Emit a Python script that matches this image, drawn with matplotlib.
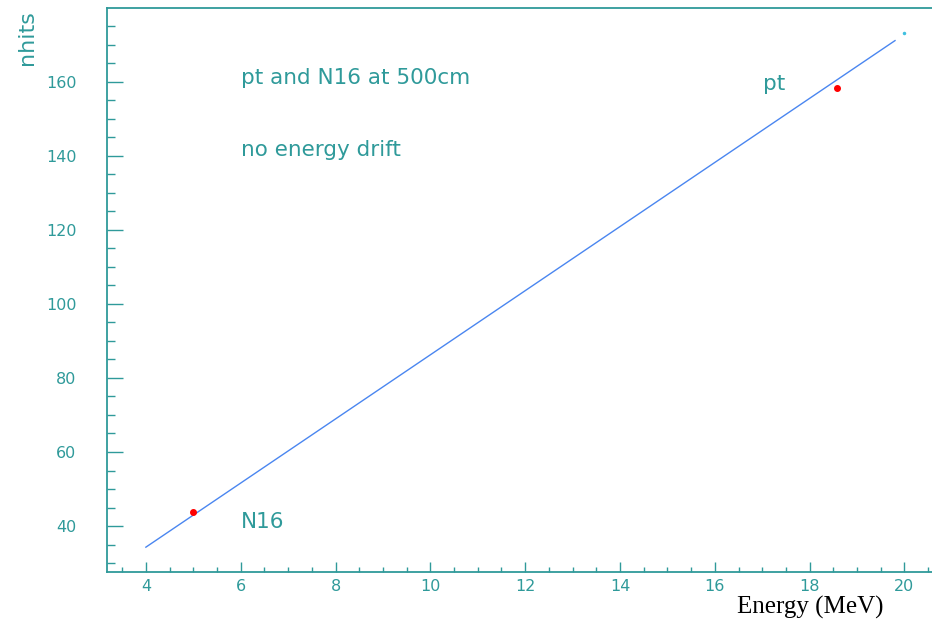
import matplotlib.pyplot as plt
from matplotlib.ticker import MultipleLocator

# fitted line (nhits vs energy)
line_energy = [4.0, 19.8]
line_nhits = [34.3, 171.1]

# measured points
point_energy = [5.0, 18.58]
point_nhits = [43.8, 158.4]
point_labels = ['N16', 'pt']

# stray point at top right
extra_energy = [20.0]
extra_nhits = [173.2]

teal = '#2f9a9a'

fig = plt.figure(figsize=(9.32, 6.26), dpi=100)
ax = fig.add_axes([0.1148, 0.0863, 0.8852, 0.9009])

ax.plot(line_energy, line_nhits, color='#4a86f0', lw=1.0)
ax.plot(point_energy, point_nhits, 'o', color='red', ms=4, mec='red')
ax.plot(extra_energy, extra_nhits, 'o', color='#40c0e0', ms=1.5)

ax.set_xlim(3.18, 20.58)
ax.set_ylim(27.6, 179.9)

ax.xaxis.set_major_locator(MultipleLocator(2))
ax.xaxis.set_minor_locator(MultipleLocator(0.5))
ax.set_yticks([40, 60, 80, 100, 120, 140, 160])
ax.yaxis.set_minor_locator(MultipleLocator(5))

ax.spines['right'].set_visible(False)
for s in ['left', 'top', 'bottom']:
    ax.spines[s].set_color(teal)
    ax.spines[s].set_linewidth(1.3)

ax.tick_params(axis='y', which='major', direction='in', length=11.5, width=1,
               color=teal, labelcolor=teal, labelsize=11.5, pad=22)
ax.tick_params(axis='y', which='minor', direction='in', length=5.8, width=1, color=teal)
ax.tick_params(axis='x', which='major', direction='in', length=7.2, width=1,
               color=teal, labelcolor=teal, labelsize=11.5, pad=5)
ax.tick_params(axis='x', which='minor', direction='in', length=3.6, width=1, color=teal)
ax.tick_params(top=False, right=False)

# text annotations
ax.text(6.0, 161, 'pt and N16 at 500cm', color=teal, fontsize=15.5, va='center')
ax.text(6.0, 141.5, 'no energy drift', color=teal, fontsize=15.5, va='center')
ax.text(17.02, 159.5, point_labels[1], color=teal, fontsize=15.5, va='center')
ax.text(6.0, 41, point_labels[0], color=teal, fontsize=15.5, va='center')

fig.text(0.029, 0.94, 'nhits', color=teal, fontsize=16, rotation=90,
         ha='center', va='center')
fig.text(0.869, 0.029, 'Energy (MeV)', family='Liberation Serif', fontsize=18,
         color='black', ha='center', va='center')

fig.savefig('out.png', dpi=100)
